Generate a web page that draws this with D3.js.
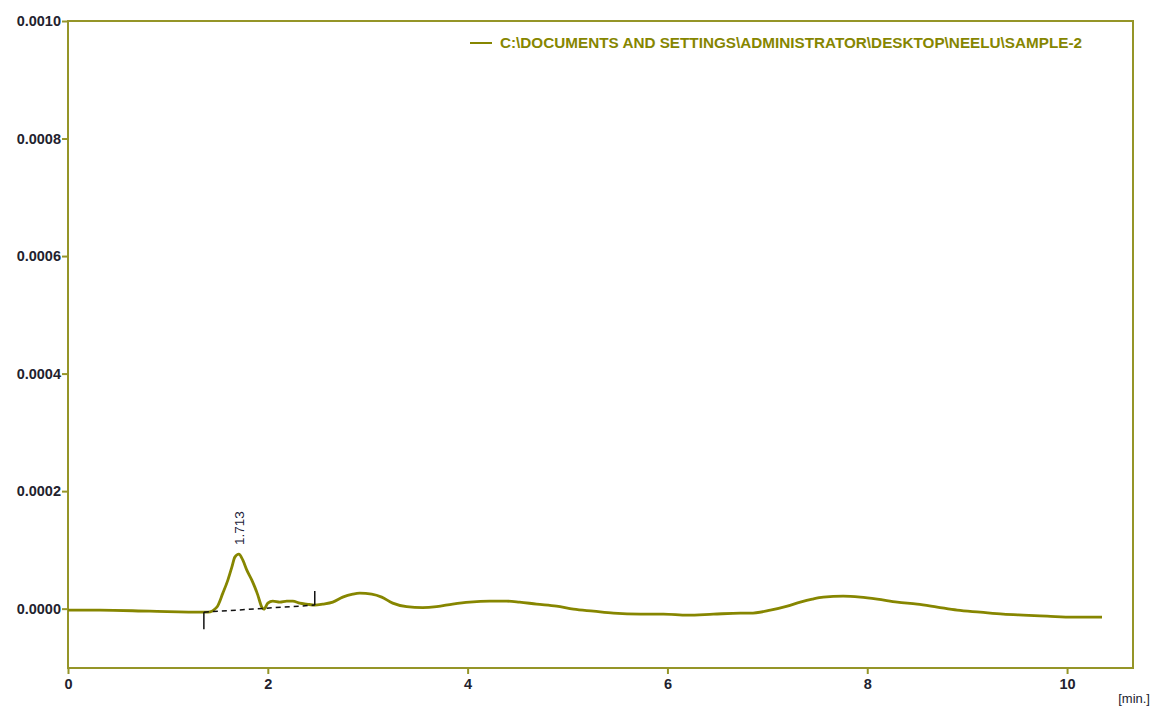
<!DOCTYPE html>
<html>
<head>
<meta charset="utf-8">
<script src="https://cdn.jsdelivr.net/npm/d3@7"></script>
<style>
  body { margin: 0; background: #fff; }
  svg { display: block; font-family: 'Liberation Sans', Arial, sans-serif; }
</style>
</head>
<body>
<script>
let width = 1152, height = 709;
let margin = { top: 21, right: 19, bottom: 41, left: 68 };

// chromatogram trace: retention time [min] and detector signal
let times = [0, 0.32, 0.82, 1.36, 1.40, 1.49, 1.55, 1.60, 1.64, 1.67, 1.71, 1.75, 1.79, 1.84, 1.87, 1.90,
    1.94, 1.96, 2.00, 2.05, 2.12, 2.19, 2.25, 2.32, 2.39, 2.47, 2.55, 2.65, 2.75, 2.85, 2.92, 3.04,
    3.14, 3.25, 3.39, 3.55, 3.69, 3.85, 4.02, 4.22, 4.39, 4.52, 4.69, 4.89, 5.06, 5.26, 5.46, 5.73,
    5.96, 6.20, 6.46, 6.73, 6.83, 7.03, 7.20, 7.33, 7.45, 7.56, 7.76, 7.93, 8.10, 8.30, 8.50, 8.70,
    8.90, 9.13, 9.36, 9.56, 9.80, 10.06, 10.35]
let signal = [-2.6e-6, -2.6e-6, -4.3e-6, -6.0e-6, -6.0e-6, 2.6e-6, 26.4e-6, 48.6e-6, 70.7e-6, 87.7e-6, 92.8e-6, 82.6e-6, 65.6e-6, 48.6e-6, 36.6e-6, 23.0e-6,
    2.6e-6, -0.9e-6, 9.4e-6, 12.8e-6, 11.1e-6, 12.8e-6, 12.8e-6, 9.4e-6, 7.7e-6, 6.0e-6, 7.7e-6, 11.1e-6, 19.6e-6, 24.7e-6, 26.4e-6, 24.7e-6,
    19.6e-6, 9.4e-6, 3.4e-6, 1.8e-6, 3.4e-6, 7.7e-6, 11.1e-6, 12.8e-6, 12.8e-6, 11.1e-6, 7.7e-6, 4.3e-6, -0.9e-6, -4.3e-6, -7.7e-6, -9.4e-6,
    -9.4e-6, -11.1e-6, -9.4e-6, -7.7e-6, -7.7e-6, -2.6e-6, 4.3e-6, 11.1e-6, 16.2e-6, 19.6e-6, 21.3e-6, 19.6e-6, 16.2e-6, 11.1e-6, 7.7e-6, 2.6e-6,
    -2.6e-6, -6.0e-6, -9.4e-6, -11.1e-6, -12.8e-6, -14.5e-6, -14.5e-6]

// integrated peak
let peakTime = 1.713
let peakSignal = 92.8e-6
let baseStart = { t: 1.36, v: -6.0e-6 }
let baseEnd = { t: 2.47, v: 6.0e-6 }

let xTicks = [0, 2, 4, 6, 8, 10]
let yTicks = [0, 0.0002, 0.0004, 0.0006, 0.0008, 0.0010]
let legendLabel = 'C:\\DOCUMENTS AND SETTINGS\\ADMINISTRATOR\\DESKTOP\\NEELU\\SAMPLE-2'
let xUnit = '[min.]'

let olive = '#868600'
let frame = '#959528'

let data = times.map((t, i) => ({ t: t, v: signal[i] }))

let svg = d3.select('body').append('svg')
    .attr('width', width).attr('height', height)

let x = d3.scaleLinear()
    .domain([0, 10.66])
    .range([margin.left, width - margin.right])
let y = d3.scaleLinear()
    .domain([-0.000101, 0.0010])
    .range([height - margin.bottom, margin.top])

// axes
let xAxis = g => g
    .attr('transform', `translate(0, ${height - margin.bottom})`)
    .call(d3.axisBottom(x).tickValues(xTicks).tickFormat(d3.format('d')).tickSize(6).tickPadding(5))
    .call(g => g.select('.domain').remove())
    .call(g => g.selectAll('.tick line').attr('stroke', frame).attr('stroke-width', 2))
    .call(g => g.selectAll('.tick text').attr('font-size', 14.5).attr('font-weight', 'bold').attr('fill', '#22222e')
        .attr('font-family', "'Liberation Sans', Arial, sans-serif"))

let yAxis = g => g
    .attr('transform', `translate(${margin.left}, 0)`)
    .call(d3.axisLeft(y).tickValues(yTicks).tickFormat(d3.format('.4f')).tickSize(6).tickPadding(1))
    .call(g => g.select('.domain').remove())
    .call(g => g.selectAll('.tick line').attr('stroke', frame).attr('stroke-width', 2))
    .call(g => g.selectAll('.tick text').attr('font-size', 14.5).attr('font-weight', 'bold').attr('fill', '#22222e')
        .attr('font-family', "'Liberation Sans', Arial, sans-serif"))

svg.append('g').call(xAxis)
svg.append('g').call(yAxis)

// plot frame
svg.append('rect')
    .attr('x', margin.left).attr('y', margin.top)
    .attr('width', width - margin.left - margin.right)
    .attr('height', height - margin.top - margin.bottom)
    .attr('fill', 'none').attr('stroke', frame).attr('stroke-width', 2)

svg.append('text')
    .attr('x', width - 2).attr('y', height - 6)
    .attr('text-anchor', 'end')
    .attr('font-size', 13)
    .attr('fill', '#22222e')
    .text(xUnit)

// trace
let line = d3.line()
    .x(d => x(d.t))
    .y(d => y(d.v))
    .curve(d3.curveMonotoneX)

svg.append('path')
    .datum(data)
    .attr('fill', 'none')
    .attr('stroke', olive)
    .attr('stroke-width', 2.8)
    .attr('d', line)

// integration baseline and markers
svg.append('line')
    .attr('x1', x(baseStart.t)).attr('y1', y(baseStart.v))
    .attr('x2', x(baseEnd.t)).attr('y2', y(baseEnd.v))
    .attr('stroke', '#111').attr('stroke-width', 1.5)
    .attr('stroke-dasharray', '5,4')
svg.append('line')
    .attr('x1', x(baseStart.t)).attr('y1', y(baseStart.v))
    .attr('x2', x(baseStart.t)).attr('y2', y(baseStart.v) + 17)
    .attr('stroke', '#111').attr('stroke-width', 1.5)
svg.append('line')
    .attr('x1', x(baseEnd.t)).attr('y1', y(baseEnd.v))
    .attr('x2', x(baseEnd.t)).attr('y2', y(baseEnd.v) - 14)
    .attr('stroke', '#111').attr('stroke-width', 1.5)

// peak label
svg.append('text')
    .attr('transform', `translate(${x(peakTime) + 5}, ${y(peakSignal) - 9}) rotate(-90)`)
    .attr('font-size', 13.5)
    .attr('fill', '#22223a')
    .text(peakTime.toFixed(3))

// legend
svg.append('line')
    .attr('x1', 470).attr('x2', 492)
    .attr('y1', 43).attr('y2', 43)
    .attr('stroke', olive).attr('stroke-width', 2)
svg.append('text')
    .attr('x', 500).attr('y', 48)
    .attr('font-size', 14)
    .attr('font-weight', 'bold')
    .attr('fill', olive)
    .attr('textLength', 582)
    .attr('lengthAdjust', 'spacingAndGlyphs')
    .text(legendLabel)
</script>
</body>
</html>
